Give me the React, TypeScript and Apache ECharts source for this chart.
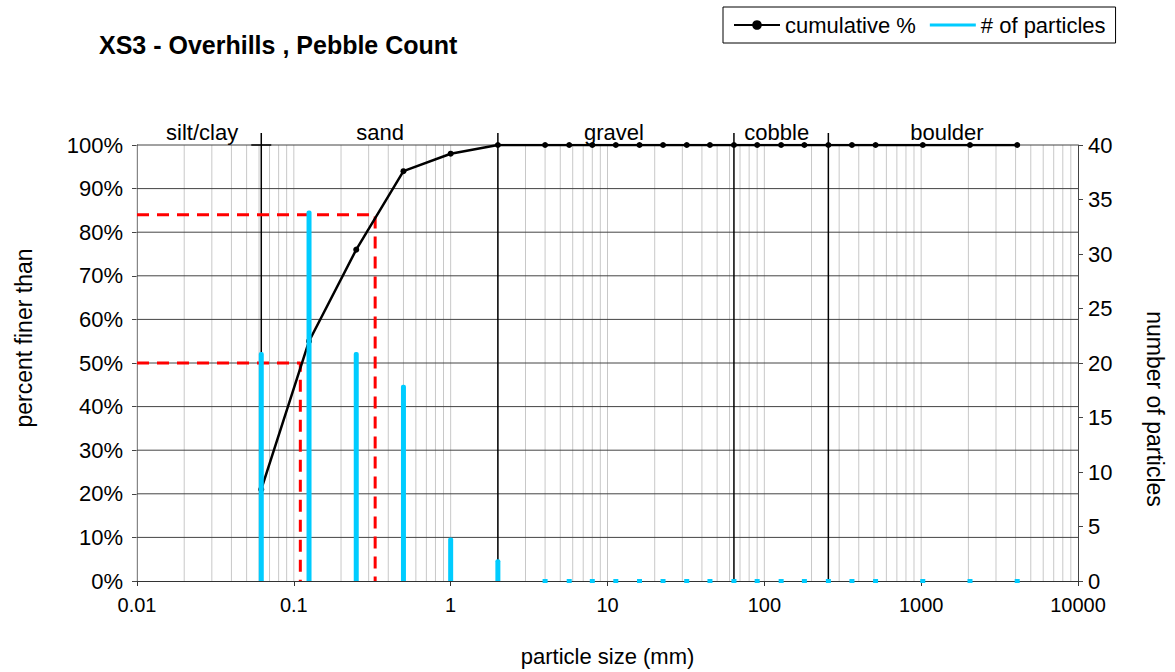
import React, { useEffect, useRef } from "react";
import * as echarts from "echarts";

// Sieve sizes (mm) and pebble-count results
const sizes = [
  0.062, 0.125, 0.25, 0.5, 1, 2, 4, 5.7, 8, 11.3, 16, 22.6, 32, 45, 64, 90,
  128, 180, 256, 362, 512, 1024, 2048, 4096,
];
const cumulative = [
  21, 55, 76, 94, 98, 100, 100, 100, 100, 100, 100, 100, 100, 100, 100, 100,
  100, 100, 100, 100, 100, 100, 100, 100,
];
const counts = [
  21, 34, 21, 18, 4, 2, 0, 0, 0, 0, 0, 0, 0, 0, 0, 0, 0, 0, 0, 0, 0, 0, 0, 0,
];

// Size-class boundaries and labels
const classBounds = [0.062, 2, 64, 256];
const classNames = ["silt/clay", "sand", "gravel", "cobble", "boulder"];
const classLabelAt = [0.026, 0.355, 11, 120, 1460];

// Characteristic diameters
const d50 = 0.11;
const d84 = 0.33;

const xMin = 0.01;
const xMax = 10000;
const percentTicks = [10, 20, 30, 40, 50, 60, 70, 80, 90, 100];

const FONT = "'Liberation Sans', Arial, Helvetica, sans-serif";

// Log-cycle grid positions: 1..9 within every decade
const logGrid: number[] = [];
for (let e = -2; e < 4; e++) {
  for (let m = 1; m <= 9; m++) logGrid.push(m * Math.pow(10, e));
}

export default function App() {
  const ref = useRef<HTMLDivElement>(null);

  useEffect(() => {
    if (!ref.current) return;
    const chart = echarts.init(ref.current, undefined, { renderer: "svg" });

    const option: any = {
      animation: false,
      backgroundColor: "#fff",
      textStyle: { fontFamily: FONT },
      title: {
        text: "XS3 - Overhills , Pebble Count",
        left: 94,
        top: 27,
        textStyle: { fontFamily: FONT, fontSize: 25, fontWeight: "bold", color: "#000" },
      },
      legend: {
        left: 723,
        top: 7,
        padding: [7, 10, 7, 10],
        borderColor: "#000",
        borderWidth: 1,
        itemGap: 14,
        itemWidth: 46,
        itemHeight: 12,
        textStyle: { fontFamily: FONT, fontSize: 22, color: "#000" },
        data: [
          { name: "cumulative %" },
          { name: "# of particles", icon: "path://M0 0H46V3H0Z" },
        ],
      },
      graphic: [
        {
          type: "text",
          x: 24,
          y: 338,
          rotation: Math.PI / 2,
          style: {
            text: "percent finer than",
            fontFamily: FONT,
            fontSize: 23,
            fill: "#000",
            textAlign: "center",
            textVerticalAlign: "middle",
          },
        },
        {
          type: "text",
          x: 1155,
          y: 409,
          rotation: -Math.PI / 2,
          style: {
            text: "number of particles",
            fontFamily: FONT,
            fontSize: 23,
            fill: "#000",
            textAlign: "center",
            textVerticalAlign: "middle",
          },
        },
      ],
      grid: { left: 137, right: 97, top: 145, bottom: 88, containLabel: false },
      xAxis: {
        type: "log",
        logBase: 10,
        min: xMin,
        max: xMax,
        name: "particle size (mm)",
        nameLocation: "middle",
        nameGap: 64,
        nameTextStyle: { fontFamily: FONT, fontSize: 22, color: "#000" },
        axisLine: { show: true, lineStyle: { color: "#333", width: 1 } },
        axisTick: { show: true, length: 5, lineStyle: { color: "#333" } },
        axisLabel: {
          fontFamily: FONT,
          fontSize: 20,
          color: "#000",
          margin: 14,
          formatter: (v: number) => String(v),
        },
        splitLine: { show: false },
      },
      yAxis: [
        {
          type: "value",
          min: 0,
          max: 100,
          interval: 10,
          axisLine: { show: true, lineStyle: { color: "#444" } },
          axisTick: { show: true, length: 5, lineStyle: { color: "#444" } },
          axisLabel: {
            fontFamily: FONT,
            fontSize: 22,
            color: "#000",
            margin: 14,
            formatter: (v: number) => v + "%",
          },
          splitLine: { show: false },
        },
        {
          type: "value",
          min: 0,
          max: 40,
          interval: 5,
          position: "right",
          axisLine: { show: true, lineStyle: { color: "#444" } },
          axisTick: { show: true, length: 5, lineStyle: { color: "#444" } },
          axisLabel: { fontFamily: FONT, fontSize: 22, color: "#000", margin: 10 },
          splitLine: { show: false },
        },
      ],
      series: [
        // vertical log-cycle grid
        {
          type: "custom",
          name: "grid-v",
          silent: true,
          z: 1,
          data: logGrid.map((v) => [v, 0]),
          renderItem: (params: any, api: any) => {
            const v = api.value(0);
            const b = api.coord([v, 0]);
            const t = api.coord([v, 100]);
            return {
              type: "line",
              shape: { x1: b[0], y1: b[1], x2: t[0], y2: t[1] },
              style: { stroke: "#c8c8c8", lineWidth: 1 },
            };
          },
        },
        // horizontal percent grid
        {
          type: "custom",
          name: "grid-h",
          silent: true,
          z: 1,
          data: percentTicks.map((p) => [xMin, p]),
          renderItem: (params: any, api: any) => {
            const p = api.value(1);
            const l = api.coord([xMin, p]);
            const r = api.coord([xMax, p]);
            return {
              type: "line",
              shape: { x1: l[0], y1: l[1], x2: r[0], y2: r[1] },
              style: { stroke: "#444", lineWidth: 1 },
            };
          },
        },
        // size-class boundaries
        {
          type: "custom",
          name: "class-bounds",
          silent: true,
          clip: false,
          z: 2,
          data: classBounds.map((v) => [v, 0]),
          renderItem: (params: any, api: any) => {
            const v = api.value(0);
            const b = api.coord([v, 0]);
            const t = api.coord([v, 100]);
            const children: any[] = [
              {
                type: "line",
                shape: { x1: b[0], y1: b[1], x2: t[0], y2: t[1] - 12 },
                style: { stroke: "#000", lineWidth: 1.5 },
              },
            ];
            if (params.dataIndex === 0) {
              children.push({
                type: "line",
                shape: { x1: t[0] - 10, y1: t[1], x2: t[0] + 10, y2: t[1] },
                style: { stroke: "#000", lineWidth: 1.5 },
              });
            }
            return { type: "group", children };
          },
        },
        // size-class labels
        {
          type: "custom",
          name: "class-labels",
          silent: true,
          clip: false,
          z: 3,
          data: classLabelAt.map((v) => [v, 100]),
          renderItem: (params: any, api: any) => {
            const p = api.coord([api.value(0), 100]);
            return {
              type: "text",
              x: p[0],
              y: p[1] - 2,
              style: {
                text: classNames[params.dataIndex],
                fontFamily: FONT,
                fontSize: 22,
                fill: "#000",
                textAlign: "center",
                textVerticalAlign: "bottom",
              },
            };
          },
        },
        // D50 guide
        {
          type: "line",
          name: "D50",
          silent: true,
          z: 3,
          symbol: "none",
          data: [
            [xMin, 50],
            [d50, 50],
            [d50, 0],
          ],
          lineStyle: { color: "#ff0000", width: 3, type: [12, 8] },
        },
        // D84 guide
        {
          type: "line",
          name: "D84",
          silent: true,
          z: 3,
          symbol: "none",
          data: [
            [xMin, 84],
            [d84, 84],
            [d84, 0],
          ],
          lineStyle: { color: "#ff0000", width: 3, type: [12, 8] },
        },
        {
          type: "line",
          name: "cumulative %",
          z: 4,
          symbol: "circle",
          symbolSize: 6,
          color: "#000",
          data: sizes.map((s, i) => [s, cumulative[i]]),
          lineStyle: { color: "#000", width: 2.5 },
          itemStyle: { color: "#000" },
        },
        {
          type: "custom",
          name: "# of particles",
          yAxisIndex: 1,
          z: 5,
          clip: false,
          color: "#00ccff",
          itemStyle: { color: "#00ccff" },
          data: sizes.map((s, i) => [s, counts[i]]),
          renderItem: (params: any, api: any) => {
            const x = api.value(0);
            const c = api.value(1);
            const b = api.coord([x, 0]);
            const t = api.coord([x, c]);
            const h = b[1] - t[1];
            if (h < 1) {
              return {
                type: "rect",
                shape: { x: b[0] - 2.5, y: b[1] - 2, width: 5, height: 4 },
                style: { fill: "#00ccff" },
              };
            }
            return {
              type: "rect",
              shape: { x: b[0] - 2.5, y: t[1], width: 5, height: h, r: [2, 2, 0, 0] },
              style: { fill: "#00ccff" },
            };
          },
        },
      ],
    };

    chart.setOption(option);
    return () => chart.dispose();
  }, []);

  return <div ref={ref} style={{ width: 1175, height: 672, position: "absolute", left: 0, top: 0 }} />;
}
